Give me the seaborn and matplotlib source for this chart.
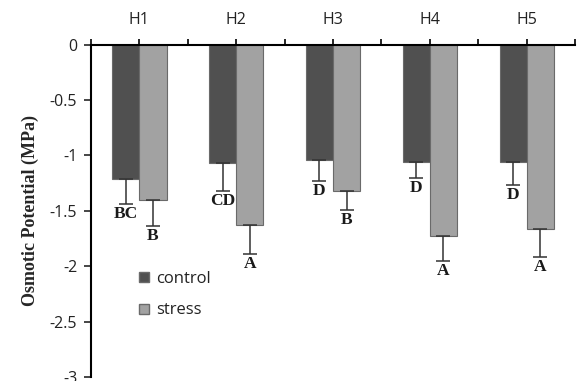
import numpy as np
import pandas as pd
import matplotlib
matplotlib.use("Agg")
import matplotlib.pyplot as plt
import seaborn as sns
from matplotlib.lines import Line2D

categories = ["H1", "H2", "H3", "H4", "H5"]
control = [-1.21, -1.065, -1.04, -1.056, -1.056]
stress = [-1.40, -1.626, -1.326, -1.73, -1.665]
control_err = [0.23, 0.26, 0.195, 0.15, 0.21]
stress_err = [0.235, 0.26, 0.165, 0.22, 0.25]
control_letters = ["BC", "CD", "D", "D", "D"]
stress_letters = ["B", "A", "B", "A", "A"]
yticks = [0, -0.5, -1, -1.5, -2, -2.5, -3]
ytick_labels = ["0", "-0.5", "-1", "-1.5", "-2", "-2.5", "-3"]

df = pd.DataFrame({
    "cat": categories * 2,
    "treat": ["control"] * 5 + ["stress"] * 5,
    "val": control + stress,
})

sns.set_style("white")
plt.rcParams["font.family"] = ["Open Sans", "DejaVu Sans"]

fig = plt.figure(figsize=(5.82, 3.81), dpi=100)
ax = fig.add_axes([0.1564, 0.0105, 0.8316, 0.8727])

colors = {"control": "#505050", "stress": "#a2a2a2"}
sns.barplot(data=df, x="cat", y="val", hue="treat", order=categories,
            hue_order=["control", "stress"], palette=colors, width=0.56,
            errorbar=None, legend=False, ax=ax, saturation=1)

for p in ax.patches:
    p.set_edgecolor("#6a6a6a")
    p.set_linewidth(0.8)

n = len(categories)
bars = ax.patches
ctrl_bars = bars[:n]
str_bars = bars[n:2 * n]

for group, vals, errs, letters in [(ctrl_bars, control, control_err, control_letters),
                                   (str_bars, stress, stress_err, stress_letters)]:
    xs = [b.get_x() + b.get_width() / 2 for b in group]
    ax.errorbar(xs, vals, yerr=[errs, [0] * n], fmt="none", ecolor="#333333",
                elinewidth=1.1, capsize=5, capthick=1.1)
    for x, v, e, t in zip(xs, vals, errs, letters):
        ax.annotate(t, (x, v - e), xytext=(0, -1.5), textcoords="offset points",
                    ha="center", va="top", fontsize=12.5, fontweight="bold",
                    family="Liberation Serif", color="#1a1a1a")

ax.set_ylim(-3, 0)
ax.set_xlim(-0.5, n - 0.5)
ax.set_yticks(yticks)
ax.set_yticklabels(ytick_labels, fontsize=11.5, color="#222222")
ax.xaxis.tick_top()
ax.set_xticks(range(n))
ax.set_xticklabels(categories, fontsize=11.5, color="#222222")
ax.set_xticks(np.arange(-0.5, n), minor=True)
ax.tick_params(axis="x", which="both", direction="out", length=4, width=1.2,
               pad=8, color="black")
ax.tick_params(axis="y", direction="out", length=5, width=1.2, left=True, pad=5)
ax.set_xlabel("")
ax.set_ylabel("Osmotic Potential (MPa)", fontsize=13, fontweight="bold",
              family="Liberation Serif", labelpad=8)
for s in ["bottom", "right"]:
    ax.spines[s].set_visible(False)
for s in ["top", "left"]:
    ax.spines[s].set_color("black")
    ax.spines[s].set_linewidth(1.5)

handles = [Line2D([], [], marker="s", linestyle="none", markersize=7,
                  markerfacecolor=colors[k], markeredgecolor="#6a6a6a") for k in ["control", "stress"]]
ax.legend(handles, ["control", "stress"], loc="upper left", bbox_to_anchor=(0.065, 0.365),
          frameon=False, fontsize=12, labelspacing=0.95, handletextpad=0.3,
          handlelength=0.8, labelcolor="#222222")

fig.savefig("out.png", dpi=100)
